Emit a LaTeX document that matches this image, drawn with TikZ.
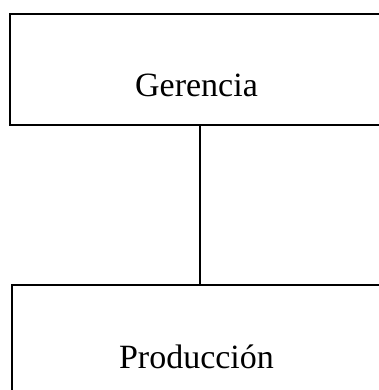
\documentclass[tikz,border=0pt]{standalone}
\usepackage{fontspec}
\setmainfont{Liberation Serif}
\begin{document}
\begin{tikzpicture}[x=1pt,y=1pt,
  box/.style={draw=black,line width=1.4pt,rectangle,inner sep=0pt},
  lbl/.style={inner sep=0pt,anchor=base,font=\fontsize{34}{38}\selectfont}]
\useasboundingbox (0,0) rectangle (379,-390);
\clip (0,0) rectangle (379,-390);
\node[box,minimum width=390pt,minimum height=111pt] (top) at (205,-69.5) {};
\node[box,minimum width=390pt,minimum height=120pt] (bot) at (207,-345) {};
\node[lbl] (tg) at (196.5,-97) {Gerencia};
\node[lbl] (tp) at (196.5,-368) {Producción};
\coordinate (cx) at (200,0);
\draw[line width=1.2pt] (top.south -| cx) -- (bot.north -| cx);
\end{tikzpicture}
\end{document}
